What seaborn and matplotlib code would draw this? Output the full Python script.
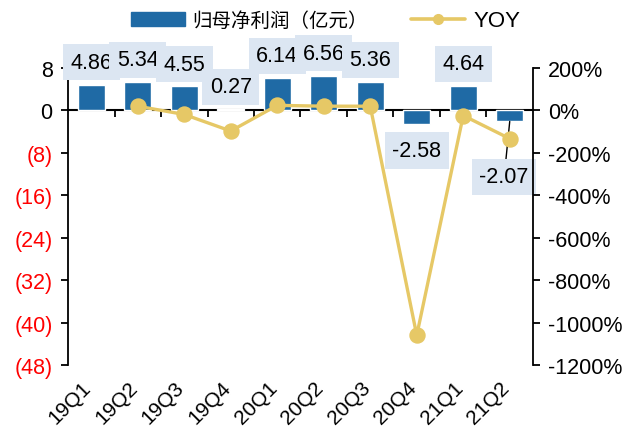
import numpy as np
import pandas as pd
import matplotlib.pyplot as plt
from matplotlib.patches import Patch
from matplotlib.lines import Line2D
from matplotlib.transforms import ScaledTranslation
import seaborn as sns

# data
quarters = ['19Q1', '19Q2', '19Q3', '19Q4', '20Q1', '20Q2', '20Q3', '20Q4', '21Q1', '21Q2']
profit = [4.86, 5.34, 4.55, 0.27, 6.14, 6.56, 5.36, -2.58, 4.64, -2.07]
yoy = [np.nan, 20, -19, -97, 24, 20, 20, -1060, -24, -133]
left_ticks = [8, 0, -8, -16, -24, -32, -40, -48]
right_ticks = [200, 0, -200, -400, -600, -800, -1000, -1200]

bar_color = '#1f6aa5'
line_color = '#e6c866'
box_color = '#dce6f2'

sns.set_style('ticks')
plt.rcParams['font.family'] = ['Liberation Sans', 'Noto Sans CJK SC']
plt.rcParams.update({'text.color': 'black', 'xtick.color': 'black', 'ytick.color': 'black',
                     'axes.edgecolor': 'black', 'axes.labelcolor': 'black'})

df = pd.DataFrame({'quarter': quarters, 'profit': profit, 'yoy': yoy})

fig = plt.figure(figsize=(6.38, 4.39), dpi=100)
ax = fig.add_axes([0.1066, 0.1663, 0.7288, 0.6765])

# bars for net profit
sns.barplot(data=df, x='quarter', y='profit', color=bar_color, width=0.58,
            saturation=1, ax=ax, zorder=2)

# YOY line on the right axis
ax2 = ax.twinx()
sns.pointplot(data=df, x='quarter', y='yoy', order=quarters, color=line_color,
              errorbar=None, markersize=10, linewidth=2.4, ax=ax2)

ax.set_xlim(-0.5, len(quarters) - 0.5)
ax.set_ylim(-48, 8)
ax2.set_ylim(-1200, 200)

# left axis: negatives in brackets, red
ax.set_yticks(left_ticks, labels=[f'({-v})' if v < 0 else str(v) for v in left_ticks])
for lbl, v in zip(ax.get_yticklabels(), left_ticks):
    if v < 0:
        lbl.set_color('red')
ax2.set_yticks(right_ticks, labels=[f'{v}%' for v in right_ticks])

ax.tick_params(axis='y', labelsize=15.5, length=5, width=1.3, direction='out', pad=6)
ax2.tick_params(axis='y', labelsize=15.5, length=5, width=1.3, direction='out', pad=6)
ax.set_xticks(range(len(quarters)), labels=quarters)
ax.tick_params(axis='x', labelsize=15, length=0, pad=9)
shift = ScaledTranslation(-7 / 72, 0, fig.dpi_scale_trans)
for lbl in ax.get_xticklabels():
    lbl.set_rotation(45)
    lbl.set_ha('right')
    lbl.set_va('top')
    lbl.set_rotation_mode('anchor')
    lbl.set_transform(lbl.get_transform() + shift)
ax.set_xlabel('')
ax.set_ylabel('')
ax2.set_ylabel('')

for a in (ax, ax2):
    a.spines['top'].set_visible(False)
    a.spines['bottom'].set_visible(False)
    a.spines['left'].set_linewidth(1.3)
    a.spines['right'].set_linewidth(1.3)
ax.spines['right'].set_visible(False)
ax2.spines['left'].set_visible(False)

# zero line with ticks between categories
zero = ax.secondary_xaxis(48 / 56)
zero.set_alignment('bottom')
zero.set_xticks(np.arange(0.5, len(quarters) - 1, 1))
zero.tick_params(axis='x', length=5, width=1.3, direction='out', labelbottom=False)
zero.spines['bottom'].set_linewidth(1.5)

# value labels
for i, v in enumerate(profit):
    kw = dict(ha='center', va='center', fontsize=15.5, textcoords='offset points',
              annotation_clip=False, bbox=dict(boxstyle='square,pad=0.35', fc=box_color, ec='none'))
    if i == len(profit) - 1:
        ax.annotate(f'{v:.2f}', xy=(i, v), xytext=(-4, -40),
                    arrowprops=dict(arrowstyle='-', color='black', lw=1, shrinkA=0, shrinkB=0), **kw)
    elif v >= 0:
        ax.annotate(f'{v:.2f}', xy=(i, v), xytext=(0, 16), **kw)
    else:
        ax.annotate(f'{v:.2f}', xy=(i, v), xytext=(0, -19), **kw)

handles = [Patch(color=bar_color),
           Line2D([], [], color=line_color, lw=2.6, marker='o', markersize=7)]
leg = fig.legend(handles, ['归母净利润（亿元）', 'YOY'], loc='upper center', ncol=2,
                 bbox_to_anchor=(0.51, 1.015), frameon=False, fontsize=14,
                 handlelength=2.8, columnspacing=2.2, handletextpad=0.4)
leg.get_texts()[1].set_fontsize(16)

fig.savefig('out.png', dpi=100)
